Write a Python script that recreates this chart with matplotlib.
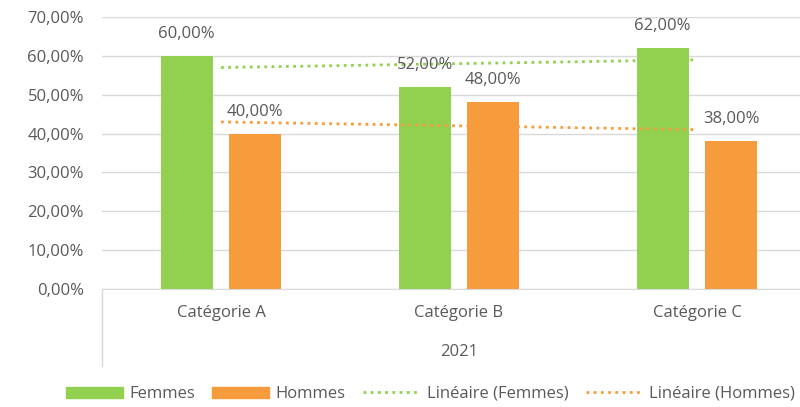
import numpy as np
import matplotlib.pyplot as plt
from matplotlib.transforms import blended_transform_factory
from matplotlib.patches import Patch
from matplotlib.lines import Line2D

# Data
categories = ["Catégorie A", "Catégorie B", "Catégorie C"]
year_label = "2021"
femmes = [60.0, 52.0, 62.0]
hommes = [40.0, 48.0, 38.0]
series_names = ["Femmes", "Hommes"]
y_ticks = [0, 10, 20, 30, 40, 50, 60, 70]

# Styles
green = "#92D050"
orange = "#F79C3C"
grey_text = "#595959"
grid_col = "#D9D9D9"
fs = 12
plt.rcParams['font.family'] = ["Open Sans", "DejaVu Sans"]

fig = plt.figure(figsize=(8, 4.07), dpi=100)
ax = fig.add_axes([0.1275, 0.2899, 0.8725, 0.6683])

x = np.arange(len(categories))
w = 0.218
off = 0.144
ax.bar(x - off, femmes, w, color=green, zorder=2)
ax.bar(x + off, hommes, w, color=orange, zorder=2)

# Linear trendlines (Excel "Linéaire")
xs = x + 1
for vals, col in [(femmes, green), (hommes, orange)]:
    p = np.polyfit(xs, vals, 1)
    ax.plot(x, np.polyval(p, xs), color=col, linestyle=(0, (1, 1.6)),
            linewidth=2, zorder=3)

# Data labels (about 22 px above bar tops)
for i in range(len(categories)):
    for j, vals in enumerate([femmes, hommes]):
        xp = x[i] + (-off if j == 0 else off)
        ax.annotate(f"{vals[i]:.2f}%".replace(".", ","), (xp, vals[i]),
                    xytext=(0, 22 * 0.72), textcoords="offset points",
                    ha="center", va="center", fontsize=fs, color=grey_text,
                    zorder=4)

ax.set_xlim(-0.5, 2.433)
ax.set_ylim(0, 70)
ax.set_yticks(y_ticks)
ax.set_yticklabels([f"{t:.2f}%".replace(".", ",") for t in y_ticks])
ax.tick_params(axis="y", length=0, pad=13, labelsize=fs, labelcolor=grey_text)
ax.set_xticks([])
ax.grid(axis="y", color=grid_col, linewidth=1, zorder=0)
ax.set_axisbelow(True)
for s in ["top", "right", "left"]:
    ax.spines[s].set_visible(False)
ax.spines["bottom"].set_color(grid_col)

# Multi-level category axis
tr = blended_transform_factory(ax.transData, ax.transAxes)
for i, c in enumerate(categories):
    ax.text(x[i], -0.088, c, transform=tr, ha="center", va="center",
            fontsize=fs, color=grey_text)
ax.text(1, -0.232, year_label, transform=tr, ha="center", va="center",
        fontsize=fs, color=grey_text)
ax.plot([-0.5, -0.5], [0, -0.283], transform=tr, color=grid_col,
        linewidth=1, clip_on=False)

# Legend
handles = [Patch(color=green), Patch(color=orange),
           Line2D([], [], color=green, linestyle=(0, (1, 1.6)), linewidth=2),
           Line2D([], [], color=orange, linestyle=(0, (1, 1.6)), linewidth=2)]
labels = series_names + [f"Linéaire ({n})" for n in series_names]
fig.legend(handles, labels, loc="center", bbox_to_anchor=(0.538, 0.032), ncol=4,
           frameon=False, fontsize=fs, labelcolor=grey_text, handlelength=3.4,
           handleheight=0.66, handletextpad=0.4, columnspacing=1.05)

fig.savefig("out.png", dpi=100)
